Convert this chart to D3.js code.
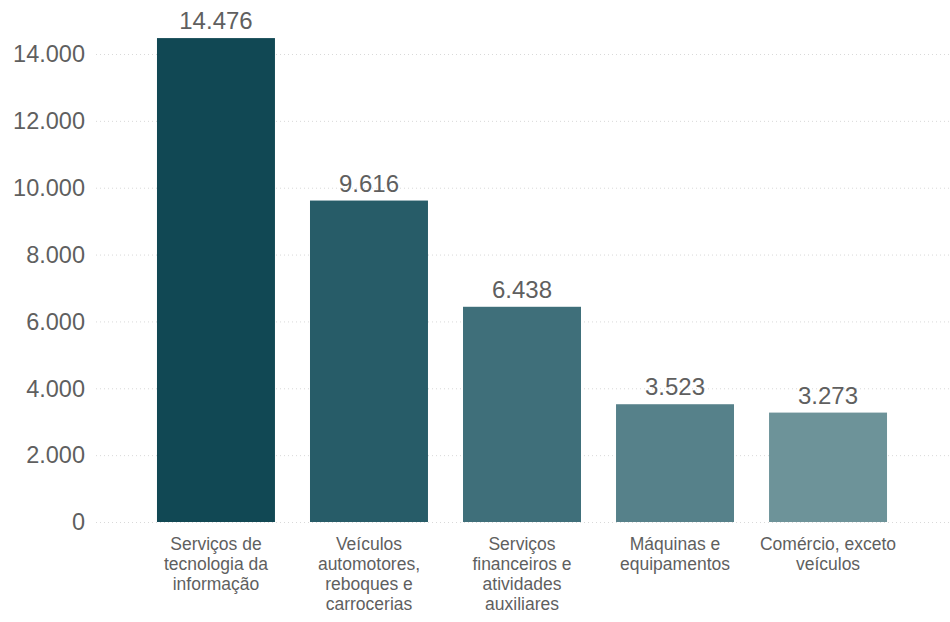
<!DOCTYPE html>
<html>
<head>
<meta charset="utf-8">
<script src="https://cdn.jsdelivr.net/npm/d3@7"></script>
<style>
  body { margin: 0; background: #fff; }
  text { font-family: "Liberation Sans", Arial, sans-serif; fill: #5f5f5f; }
</style>
</head>
<body>
<svg id="chart"></svg>
<script>
var categories = [
  ["Serviços de", "tecnologia da", "informação"],
  ["Veículos", "automotores,", "reboques e", "carrocerias"],
  ["Serviços", "financeiros e", "atividades", "auxiliares"],
  ["Máquinas e", "equipamentos"],
  ["Comércio, exceto", "veículos"]
];
var values = [14476, 9616, 6438, 3523, 3273];
var barColors = ["#114854", "#275c68", "#3f6f7a", "#56818a", "#6d9399"];
var yTicks = [0, 2000, 4000, 6000, 8000, 10000, 12000, 14000];

var width = 950, height = 622;
var margin = {top: 0, right: 2, bottom: 100, left: 98};

var svg = d3.select("#chart")
    .attr("width", width)
    .attr("height", height);

var fmt = function(v) { return d3.format(",")(v).replace(/,/g, "."); };

var xScale = d3.scaleBand()
    .domain(d3.range(values.length))
    .range([margin.left, width - margin.right])
    .paddingInner(0.229)
    .paddingOuter(0.392);

var yScale = d3.scaleLinear()
    .domain([0, 14000])
    .range([522, 54]);

// gridlines
svg.append("g").selectAll("line")
    .data(yTicks)
    .enter().append("line")
    .attr("x1", 96)
    .attr("x2", width)
    .attr("y1", function(d) { return yScale(d) + 0.5; })
    .attr("y2", function(d) { return yScale(d) + 0.5; })
    .style("stroke", "#d9d9d9")
    .style("stroke-width", 1)
    .style("stroke-dasharray", "1,3");

// y tick labels
svg.append("g").selectAll("text")
    .data(yTicks)
    .enter().append("text")
    .attr("x", 85)
    .attr("y", function(d) { return yScale(d); })
    .attr("dy", "0.35em")
    .attr("text-anchor", "end")
    .style("font-size", "23.5px")
    .text(fmt);

// bars
svg.append("g").selectAll("rect")
    .data(values)
    .enter().append("rect")
    .attr("x", function(d, i) { return xScale(i) - 1; })
    .attr("width", xScale.bandwidth())
    .attr("y", function(d) { return yScale(d); })
    .attr("height", function(d) { return yScale(0) - yScale(d); })
    .style("fill", function(d, i) { return barColors[i]; });

// value labels
svg.append("g").selectAll("text")
    .data(values)
    .enter().append("text")
    .attr("x", function(d, i) { return xScale(i) - 1 + xScale.bandwidth() / 2; })
    .attr("y", function(d) { return yScale(d) - 9; })
    .attr("text-anchor", "middle")
    .style("font-size", "24px")
    .text(fmt);

// category labels
var cats = svg.append("g").selectAll("text")
    .data(categories)
    .enter().append("text")
    .attr("text-anchor", "middle")
    .style("font-size", "17.5px");
cats.each(function(lines, i) {
  d3.select(this).selectAll("tspan")
      .data(lines)
      .enter().append("tspan")
      .attr("x", xScale(i) - 1 + xScale.bandwidth() / 2)
      .attr("y", function(d, j) { return 550 + j * 20; })
      .text(function(d) { return d; });
});
</script>
</body>
</html>
